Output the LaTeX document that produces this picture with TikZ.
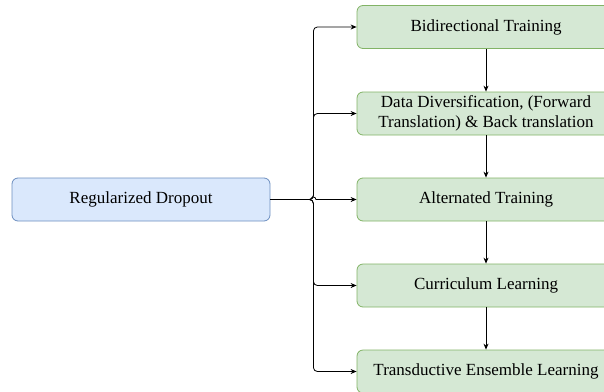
\documentclass[tikz,border=0pt]{standalone}
\usepackage{fontspec}
\setmainfont{Liberation Serif}
\usetikzlibrary{arrows.meta}
\definecolor{regfill}{HTML}{DAE8FC}
\definecolor{regline}{HTML}{6C8EBF}
\definecolor{stagefill}{HTML}{D5E8D4}
\definecolor{stageline}{HTML}{82B366}
\begin{document}
\begin{tikzpicture}[x=1pt, y=-1pt,
  every node/.style={rectangle, rounded corners=6pt, draw, line width=0.8pt, minimum width=258pt, minimum height=43pt, inner sep=0pt, align=center, font=\fontsize{17}{20}\selectfont},
  regbox/.style={fill=regfill, draw=regline},
  stagebox/.style={fill=stagefill, draw=stageline}]
\useasboundingbox (0,0) rectangle (604,391);
\node[regbox] (reg) at (141, 199.5) {Regularized Dropout};
\node[stagebox] (bidir) at (486, 27) {Bidirectional Training};
\node[stagebox] (datadiv) at (486, 113.5) {Data Diversification, (Forward\\Translation) \& Back translation};
\node[stagebox] (alt) at (486, 199.5) {Alternated Training};
\node[stagebox] (curr) at (486, 285.5) {Curriculum Learning};
\node[stagebox] (trans) at (486, 371.5) {Transductive Ensemble Learning};
% branches from the dropout box
\draw[-{Stealth[length=6pt,width=5pt]}, line width=0.8pt, rounded corners=4pt] (reg.east) -- ++(43,0) |- (bidir.west);
\draw[-{Stealth[length=6pt,width=5pt]}, line width=0.8pt, rounded corners=4pt] (reg.east) -- ++(43,0) |- (datadiv.west);
\draw[-{Stealth[length=6pt,width=5pt]}, line width=0.8pt] (reg.east) -- ++(40.5,0) arc (180:360:2.5) -- (alt.west);
\draw[-{Stealth[length=6pt,width=5pt]}, line width=0.8pt, rounded corners=4pt] (reg.east) -- ++(43,0) |- (curr.west);
\draw[-{Stealth[length=6pt,width=5pt]}, line width=0.8pt, rounded corners=4pt] (reg.east) -- ++(43,0) |- (trans.west);
% chain of stages
\draw[-{Stealth[length=6pt,width=5pt]}, line width=0.8pt] (bidir) -- (datadiv);
\draw[-{Stealth[length=6pt,width=5pt]}, line width=0.8pt] (datadiv) -- (alt);
\draw[-{Stealth[length=6pt,width=5pt]}, line width=0.8pt] (alt) -- (curr);
\draw[-{Stealth[length=6pt,width=5pt]}, line width=0.8pt] (curr) -- (trans);
\end{tikzpicture}
\end{document}
